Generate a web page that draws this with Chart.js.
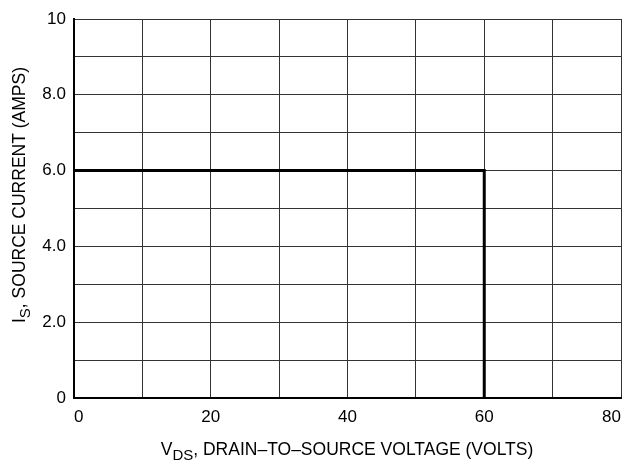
<!DOCTYPE html>
<html>
<head>
<meta charset="utf-8">
<script src="https://cdn.jsdelivr.net/npm/chart.js@4"></script>
<style>
  html, body { margin: 0; padding: 0; background: #fff; }
  #wrap { width: 629px; height: 468px; }
</style>
</head>
<body>
<div id="wrap"><canvas id="chart" width="629" height="468"></canvas></div>
<script>
// safe operating limit, drawn as a polyline
const vdsPoints = [0, 60, 60];
const isPoints = [6, 6, 0];

const xTickValues = [0, 20, 40, 60, 80];
const yTickLabels = { 0: "0", 2: "2.0", 4: "4.0", 6: "6.0", 8: "8.0", 10: "10" };

const FONT = "'Liberation Sans', Arial, sans-serif";

// axis titles with subscripts
const axisTitles = {
  id: "axisTitles",
  afterDraw(chart) {
    const ctx = chart.ctx;
    ctx.save();
    ctx.fillStyle = "#000";
    ctx.textBaseline = "alphabetic";

    // x title
    const xParts = [["V", 17.5, 0], ["DS", 15, 5], [", DRAIN\u2013TO\u2013SOURCE VOLTAGE (VOLTS)", 17.5, 0]];
    drawParts(ctx, xParts, 347, 455);

    // y title, rotated
    ctx.translate(25, 195);
    ctx.rotate(-Math.PI / 2);
    const yParts = [["I", 17.5, 0], ["S", 15, 5], [", SOURCE CURRENT (AMPS)", 17.5, 0]];
    drawParts(ctx, yParts, 0, 0);
    ctx.restore();
  }
};

function drawParts(ctx, parts, cx, baseY) {
  let total = 0;
  parts.forEach(p => {
    ctx.font = p[1] + "px " + FONT;
    total += ctx.measureText(p[0]).width;
  });
  let x = cx - total / 2;
  ctx.textAlign = "left";
  parts.forEach(p => {
    ctx.font = p[1] + "px " + FONT;
    ctx.fillText(p[0], x, baseY + p[2]);
    x += ctx.measureText(p[0]).width;
  });
}

new Chart(document.getElementById("chart"), {
  type: "line",
  data: {
    datasets: [{
      data: vdsPoints.map((v, i) => ({ x: v, y: isPoints[i] })),
      borderColor: "#000",
      borderWidth: 3,
      pointRadius: 0,
      tension: 0,
      fill: false,
      clip: false
    }]
  },
  options: {
    responsive: false,
    animation: false,
    layout: { padding: { top: 19, right: 8, left: 0, bottom: 0 } },
    plugins: { legend: { display: false }, tooltip: { enabled: false } },
    scales: {
      x: {
        type: "linear",
        min: 0,
        max: 80,
        afterFit: s => { s.height = 70; s.paddingLeft = 0; s.paddingRight = 0; },
        afterBuildTicks: s => { s.ticks = []; for (let v = 0; v <= 80; v += 10) s.ticks.push({ value: v }); },
        ticks: {
          autoSkip: false,
          maxRotation: 0,
          align: "inner",
          padding: 9,
          color: "#000",
          font: { family: FONT, size: 17 },
          callback: v => xTickValues.includes(v) ? String(v) : ""
        },
        grid: { color: "#333", lineWidth: 1, drawTicks: false },
        border: { color: "#000", width: 2 }
      },
      y: {
        type: "linear",
        min: 0,
        max: 10,
        afterFit: s => { s.width = 74; s.paddingTop = 0; s.paddingBottom = 0; },
        afterBuildTicks: s => { s.ticks = []; for (let v = 0; v <= 10; v += 1) s.ticks.push({ value: v }); },
        ticks: {
          autoSkip: false,
          padding: 8,
          color: "#000",
          font: { family: FONT, size: 17 },
          callback: v => yTickLabels[v] !== undefined ? yTickLabels[v] : ""
        },
        grid: { color: "#333", lineWidth: 1, drawTicks: false },
        border: { color: "#000", width: 2 }
      }
    }
  },
  plugins: [axisTitles]
});
</script>
</body>
</html>
